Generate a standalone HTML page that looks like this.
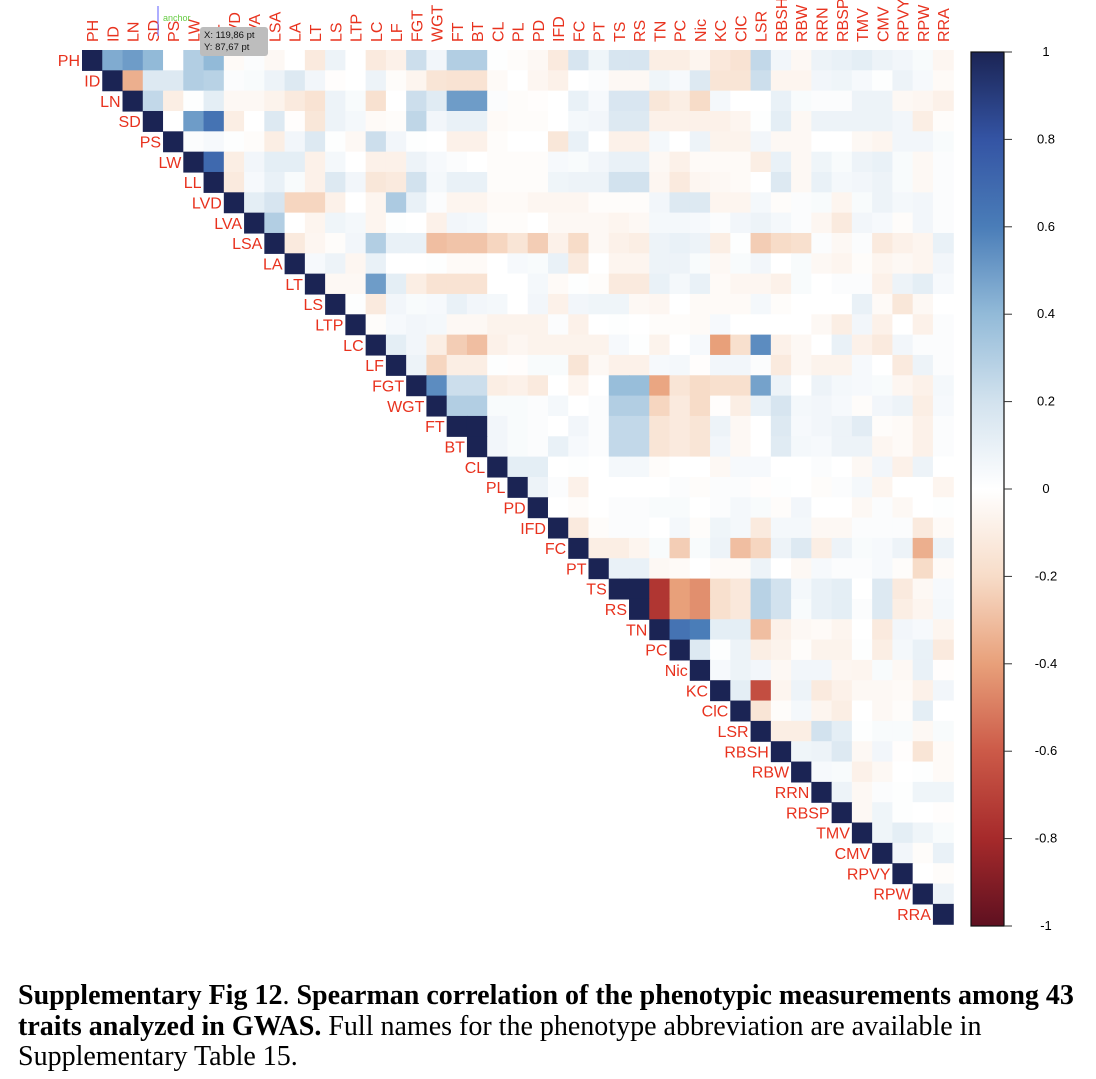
<!DOCTYPE html>
<html><head><meta charset="utf-8"><style>
html,body{margin:0;padding:0;background:#fff;width:1096px;height:1079px;overflow:hidden}
#chart{position:absolute;left:0;top:0}
.cap{position:absolute;left:18px;font-family:"Liberation Serif",serif;font-size:28px;color:#000;white-space:nowrap;line-height:32px}
</style></head><body>
<svg id="chart" width="1096" height="960" xmlns="http://www.w3.org/2000/svg"></svg>
<div class="cap" style="top:980px"><b>Supplementary Fig 12</b>. <b>Spearman correlation of the phenotypic measurements among 43</b></div>
<div class="cap" style="top:1011px"><b>traits analyzed in GWAS.</b> Full names for the phenotype abbreviation are available in</div>
<div class="cap" style="top:1041px">Supplementary Table 15.</div>
<script>
const traits = ["PH","ID","LN","SD","PS","LW","LL","LVD","LVA","LSA","LA","LT","LS","LTP","LC","LF","FGT","WGT","FT","BT","CL","PL","PD","IFD","FC","PT","TS","RS","TN","PC","Nic","KC","ClC","LSR","RBSH","RBW","RRN","RBSP","TMV","CMV","RPVY","RPW","RRA"];
const colorbarTicks = [1,0.8,0.6,0.4,0.2,0,-0.2,-0.4,-0.6,-0.8,-1];
const colorbarTickLabels = ["1","0.8","0.6","0.4","0.2","0","-0.2","-0.4","-0.6","-0.8","-1"];
// upper-triangle values: row i holds columns i+1..42
const corrRows = [
[0.45,0.5,0.4,0,0.3,0.4,-0.03,0.02,-0.04,0,-0.12,0.08,0,-0.12,-0.08,0.22,0.06,0.3,0.3,0.01,-0.02,-0.04,-0.12,0.18,0.07,0.18,0.18,-0.1,-0.1,-0.06,-0.13,-0.16,0.25,0.06,-0.04,0.08,0.1,0.12,0.08,0.06,0.03,-0.05],
[-0.35,0.15,0.15,0.3,0.28,0.02,0.03,0.08,0.15,0.06,-0.01,0,0.08,-0.02,-0.06,-0.15,-0.16,-0.16,-0.03,0,-0.05,-0.08,0,0.02,-0.04,-0.04,0.07,0.04,0.15,-0.15,-0.15,0.22,-0.06,-0.06,0.06,0.07,0.04,0.01,0.08,0.04,-0.03],
[0.25,-0.1,0.01,0.12,-0.04,-0.04,-0.07,-0.12,-0.16,0.08,0.03,-0.17,0,0.22,0.14,0.5,0.5,0.02,-0.02,-0.01,0,0.1,0.04,0.17,0.17,-0.14,-0.1,-0.2,0.05,0,0,0.1,0.03,0.02,0.02,0.08,0.08,-0.04,-0.05,-0.08],
[0,0.5,0.65,-0.1,0,0.15,-0.01,-0.14,0.08,0.05,-0.03,-0.02,0.26,0.06,0.1,0.1,-0.03,-0.02,-0.02,0,0.05,0.06,0.15,0.15,-0.08,-0.08,-0.08,-0.08,-0.06,0.01,0.12,-0.04,0.08,0.08,0.08,0.08,0.06,-0.1,-0.02],
[0.02,0.04,0.01,-0.02,-0.1,0.06,0.15,0.01,-0.04,0.22,0.06,0.01,0,-0.08,-0.08,-0.02,0,0,-0.14,0.1,0,-0.08,-0.08,0.05,0,0.08,-0.07,-0.07,0.06,-0.04,-0.04,0,0,-0.04,-0.06,0.06,0.06,0.03],
[0.7,-0.1,0.06,0.12,0.12,-0.08,0.05,0,-0.08,-0.08,0.08,0.04,0.02,0,-0.02,-0.02,-0.02,0.04,0.03,0.06,0.1,0.1,-0.04,-0.08,-0.03,-0.03,-0.03,-0.1,0.1,-0.04,0.07,0.03,0.08,0.1,0.03,-0.04,0.02],
[-0.12,0.04,0.1,0.03,-0.08,0.15,0.06,-0.14,-0.12,0.2,0.05,0.1,0.1,-0.02,-0.02,-0.02,0.07,0.08,0.08,0.2,0.2,-0.05,-0.12,-0.05,-0.04,-0.03,0,0.15,-0.04,0.1,0.05,0.06,0.08,0.03,-0.04,0.02],
[0.12,0.18,-0.22,-0.22,-0.08,0,-0.06,0.32,0.1,0.02,-0.06,-0.06,-0.03,-0.03,-0.05,-0.05,-0.05,-0.02,-0.02,-0.02,0.06,0.15,0.15,-0.06,-0.06,0.05,-0.02,0.02,0.03,-0.06,0.03,0.08,0.05,0.06,0.02],
[0.3,0,-0.06,0.07,0.05,-0.06,0.01,0,-0.08,0.06,0.05,-0.02,-0.02,0,-0.04,-0.04,-0.04,-0.06,-0.04,0.05,0.05,0.04,0.02,0.06,0.08,0.05,0.02,-0.05,-0.12,0.06,0.04,-0.02,0.06,0.02],
[-0.12,-0.05,-0.02,0.06,0.3,0.1,0.1,-0.3,-0.28,-0.28,-0.22,-0.15,-0.25,-0.08,-0.2,-0.04,-0.08,-0.1,0.08,0.1,0.08,-0.1,0.01,-0.25,-0.2,-0.18,0.02,-0.04,0.02,-0.12,-0.08,-0.06,0.1],
[0.04,0.08,-0.05,0.1,0,0,0.01,-0.03,-0.03,0,0.04,0.03,0.1,-0.12,0,-0.06,-0.06,0.08,0.08,0.03,-0.04,0.03,0.06,0,0.03,-0.04,-0.06,-0.02,-0.06,-0.04,-0.06,0.06],
[-0.04,-0.04,0.5,0.12,-0.1,-0.16,-0.16,-0.16,0,0,0.05,-0.03,0.01,-0.02,-0.12,-0.12,0.1,0.05,0.1,-0.03,-0.05,-0.05,-0.08,0.03,0,0.02,0.02,-0.08,0.08,0.12,0.04],
[0.01,-0.12,0.06,0.03,0.04,0.1,0.06,0.05,0,0.06,-0.08,0.06,0.07,0.07,-0.04,-0.05,0,-0.03,-0.03,-0.03,0.05,-0.02,0,0,0,0.1,-0.03,-0.14,-0.04,0],
[-0.02,0.04,0.06,0.05,-0.04,-0.04,-0.07,-0.07,-0.07,0.02,-0.08,0,0.01,0,-0.02,-0.02,-0.03,0.04,0,0,0,0,-0.04,-0.1,0.06,-0.08,0,-0.08,0.02],
[0.12,0.06,-0.1,-0.25,-0.3,-0.08,-0.05,-0.07,-0.07,-0.07,-0.07,0.04,0.01,-0.07,0,0.04,-0.4,-0.18,0.55,-0.08,-0.04,0,0.1,-0.08,-0.12,0.06,0.02,0.02],
[0.08,-0.22,-0.1,-0.1,0.01,-0.01,0.03,0.03,-0.15,-0.04,-0.08,-0.08,0.04,0.05,-0.01,0.06,0.06,0.02,-0.12,-0.04,-0.07,-0.07,0.04,0,-0.12,0.08,0.02],
[0.55,0.22,0.22,-0.1,-0.08,-0.12,0,-0.06,0,0.38,0.38,-0.38,-0.15,-0.2,-0.18,-0.18,0.48,0.08,0,0.08,0.05,0.04,0.03,-0.05,-0.08,0.05],
[0.3,0.3,0.03,0.03,0.02,0.05,0,0.02,0.3,0.3,-0.22,-0.12,-0.2,-0.01,-0.1,0.1,0.18,0.05,0.06,0.04,-0.02,0.06,0.08,-0.1,0.04],
[1,0.06,0.03,0.02,0,0.06,0.02,0.25,0.25,-0.15,-0.12,-0.15,0.08,-0.04,0,0.15,0.04,0.06,0.08,0.13,-0.02,-0.03,-0.08,0.02],
[0.06,0.03,0.02,0.1,0.04,0.02,0.25,0.25,-0.15,-0.12,-0.15,0.06,-0.04,0,0.14,0.05,0.04,0.08,0.08,-0.05,-0.03,-0.08,0.02],
[0.12,0.12,0,0.01,0,0.05,0.05,-0.02,0,0,-0.04,0.04,0.04,0,0,0.02,0,-0.04,0.06,-0.08,0.08,0],
[0.08,0.02,-0.08,0,0,0,0,0.02,-0.02,0.02,0.02,-0.01,0.01,0,-0.02,0.02,0.05,-0.06,0,0,-0.06],
[0,-0.02,0,0.02,0.02,0.03,0.03,0,0.02,0.05,0.03,-0.02,0.06,0,0,-0.04,0.02,-0.04,0,0.01],
[-0.12,-0.02,0.02,0.02,0,0.05,-0.02,0.07,0.05,-0.12,0.05,0.05,-0.04,-0.04,0.02,0.02,0.02,-0.12,-0.03],
[-0.1,-0.1,-0.06,0.03,-0.25,0.03,0.08,-0.3,-0.22,0.08,0.15,-0.1,0.08,0.03,0.04,0.08,-0.35,0.08],
[0.1,0.1,-0.04,-0.03,0,-0.03,-0.03,0.08,0,-0.04,0.04,0.02,0.02,0.04,-0.02,-0.2,-0.03],
[1,-0.75,-0.4,-0.45,-0.18,-0.13,0.28,0.2,0.05,0.1,0.12,0,0.15,-0.12,-0.04,0.04],
[-0.75,-0.4,-0.45,-0.18,-0.13,0.28,0.2,0.03,0.1,0.12,0.02,0.15,-0.1,-0.06,0.05],
[0.65,0.6,0.12,0.12,-0.3,-0.08,-0.04,-0.03,-0.06,0,-0.12,0.06,0.04,-0.06],
[0.15,0.01,0.08,-0.1,-0.07,-0.02,-0.07,-0.07,0.01,-0.1,0.05,0.1,-0.12],
[0.04,0.08,0.06,-0.04,0.06,0.06,-0.05,-0.06,0.03,-0.04,0.1,-0.01],
[0.12,-0.65,-0.06,0.08,-0.12,-0.08,-0.04,-0.04,-0.03,-0.08,0.06],
[-0.15,-0.02,0.05,-0.06,-0.1,0,-0.04,-0.02,0.12,0],
[-0.1,-0.1,0.2,0.12,0.01,0.03,0.03,-0.04,0.03],
[0.07,0.08,0.15,-0.04,0.06,-0.01,-0.15,-0.03],
[0.04,0.03,-0.08,-0.04,0,0.01,-0.03],
[0.08,-0.04,0.02,0.01,0.07,0.07],
[-0.04,0.07,0.01,0,-0.01],
[0.07,0.12,0.07,0.03],
[0.06,-0.02,0.1],
[0,-0.02],
[0.08],
[]
];

const NS = "http://www.w3.org/2000/svg";
const svg = document.getElementById('chart');
const X0 = 82, CW = 20.26, Y0 = 50, CH = 20.33;
const xPos = j => X0 + CW * j;
const yPos = i => Y0 + CH * i;
const stops = [[-1,[94,16,32]],[-0.8,[166,42,43]],[-0.6,[204,90,72]],[-0.4,[232,160,122]],[-0.2,[247,220,200]],[0,[255,255,255]],[0.2,[210,226,238]],[0.4,[146,186,216]],[0.6,[74,125,184]],[0.8,[52,84,164]],[1,[27,36,84]]];
function color(v){
  v = Math.max(-1, Math.min(1, v));
  for (let k = 0; k < stops.length - 1; k++) {
    const a = stops[k], b = stops[k+1];
    if (v <= b[0]) {
      const t = (v - a[0]) / (b[0] - a[0]);
      const c = a[1].map((x, n) => Math.round(x + (b[1][n] - x) * t));
      return `rgb(${c[0]},${c[1]},${c[2]})`;
    }
  }
  return 'rgb(27,36,84)';
}
function mk(tag, attrs){ const e = document.createElementNS(NS, tag); for (const k in attrs) e.setAttribute(k, attrs[k]); return e; }

const cells = mk('g', {});


svg.appendChild(cells);
for (let i = 0; i < traits.length; i++) {
  const d = mk('rect', {x: xPos(i), y: yPos(i), width: CW + 0.6, height: CH + 0.6, fill: color(1)});
  
  
  cells.appendChild(d);
  const row = corrRows[i] || [];
  for (let k = 0; k < row.length; k++) {
    const j = i + 1 + k;
    if (j >= traits.length) break;
    const r = mk('rect', {x: xPos(j), y: yPos(i), width: CW + 0.6, height: CH + 0.6, fill: color(row[k])});
    
    
    cells.appendChild(r);
  }
}
for (let i = 0; i < traits.length; i++) {
  const t = mk('text', {x: xPos(i) - 2, y: yPos(i) + CH/2 + 6, 'text-anchor': 'end', fill: '#E8321E', 'font-family': 'Liberation Sans, sans-serif', 'font-size': '16'});
  t.textContent = traits[i];
  
  
  svg.appendChild(t);
}
for (let j = 0; j < traits.length; j++) {
  const cx = xPos(j) + CW/2 + 6, cy = 42;
  const t = mk('text', {x: cx, y: cy, transform: `rotate(-90 ${cx} ${cy})`, 'text-anchor': 'start', fill: '#E8321E', 'font-family': 'Liberation Sans, sans-serif', 'font-size': '16'});
  t.textContent = traits[j];
  
  
  svg.appendChild(t);
}
const defs = mk('defs', {});
const lg = mk('linearGradient', {id: 'cb', x1: '0', y1: '0', x2: '0', y2: '1'});
stops.slice().reverse().forEach(s => lg.appendChild(mk('stop', {offset: ((1 - s[0]) / 2 * 100) + '%', 'stop-color': color(s[0])})));
defs.appendChild(lg); svg.appendChild(defs);
const CBT = 52, CBB = 926;
const cbY = v => CBT + (1 - v) / 2 * (CBB - CBT);
const bar = mk('rect', {x: 971, y: CBT, width: 33, height: CBB - CBT, fill: 'url(#cb)', stroke: '#111', 'stroke-width': '1.2'});


svg.appendChild(bar);
colorbarTicks.forEach((v, k) => {
  const ln = mk('line', {x1: 1004, x2: 1012, y1: cbY(v), y2: cbY(v), stroke: '#333', 'stroke-width': '1'});
  
  
  svg.appendChild(ln);
  const t = mk('text', {x: 1046, y: cbY(v) + 4, 'text-anchor': 'middle', 'font-family': 'Liberation Sans, sans-serif', 'font-size': '13', fill: '#000'});
  t.textContent = colorbarTickLabels[k];
  
  
  svg.appendChild(t);
});
const tipLine = mk('line', {x1: 158, x2: 158, y1: 6, y2: 36, stroke: '#7777ff', 'stroke-width': '1.2'});


svg.appendChild(tipLine);
const anc = mk('text', {x: 163, y: 21, fill: '#66cc44', 'font-family': 'Liberation Sans, sans-serif', 'font-size': '9'});
anc.textContent = 'anchor';


svg.appendChild(anc);
const tip = mk('rect', {x: 200, y: 27, width: 68, height: 29, rx: 3, fill: '#bdbdbd'});


svg.appendChild(tip);
['X: 119,86 pt','Y: 87,67 pt'].forEach((s, k) => {
  const t = mk('text', {x: 204, y: 38 + k * 12, 'font-family': 'Liberation Sans, sans-serif', 'font-size': '9.5', fill: '#111'});
  t.textContent = s;
  
  
  svg.appendChild(t);
});
</script>
</body></html>
